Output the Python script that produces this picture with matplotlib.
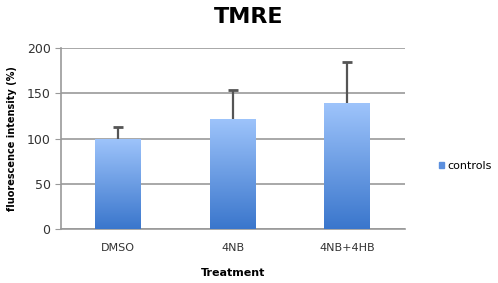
import numpy as np
import matplotlib.pyplot as plt
from matplotlib.colors import LinearSegmentedColormap
from matplotlib.patches import Patch

# data
categories = ['DMSO', '4NB', '4NB+4HB']
values = [100, 122, 139]
errors = [13, 32, 46]

fig = plt.figure(figsize=(4.98, 2.83), dpi=100)
ax = fig.add_axes([0.1225, 0.19, 0.69, 0.64])

x = np.arange(len(categories))
bars = ax.bar(x, values, width=0.4, color='none', zorder=3, label='controls')
eb = ax.errorbar(x, values, yerr=[np.zeros(len(errors)), errors], fmt='none',
                 ecolor='#555555', elinewidth=1.6, capsize=3.5, capthick=2, zorder=4)
# only the upper caps
eb[1][0].set_visible(False)

# gradient fill for bars
cmap = LinearSegmentedColormap.from_list('grad', ['#3a76cc', '#9ec4fb'])
grad = np.linspace(0, 1, 256).reshape(-1, 1)
for b in bars:
    bx, by = b.get_x(), b.get_y()
    w, h = b.get_width(), b.get_height()
    im = ax.imshow(grad, cmap=cmap, aspect='auto', origin='lower',
                   extent=[bx, bx + w, by, by + h], zorder=3)
    im.set_clip_path(b)

ax.set_xlim(-0.5, 2.5)
ax.set_ylim(0, 200)
ax.set_yticks([0, 50, 100, 150, 200])
ax.set_xticks(x)
ax.set_xticklabels(categories)
ax.yaxis.grid(True, color='#999999', linewidth=1.2, zorder=0)
ax.set_axisbelow(True)
for s in ['top', 'right']:
    ax.spines[s].set_visible(False)
ax.spines['left'].set_color('#999999')
ax.spines['bottom'].set_color('#999999')
ax.spines['left'].set_linewidth(1.2)
ax.spines['bottom'].set_linewidth(1.2)
ax.tick_params(axis='y', length=4, color='#999999', labelsize=9, labelcolor='#333333')
ax.tick_params(axis='x', length=0, labelsize=8, labelcolor='#333333', pad=10)

ax.set_xlabel('Treatment', fontsize=8, fontweight='bold', labelpad=11)
ax.set_ylabel('fluorescence intensity (%)', fontsize=7, fontweight='bold', labelpad=7)
fig.suptitle('TMRE', fontsize=16, fontweight='bold', y=0.975)

ax.legend(handles=[Patch(color='#5b8fde', label='controls')], loc='center left',
          bbox_to_anchor=(1.07, 0.35), frameon=False, fontsize=8,
          handlelength=0.5, handleheight=0.5, handletextpad=0.3)

fig.savefig('out.png', dpi=100)
